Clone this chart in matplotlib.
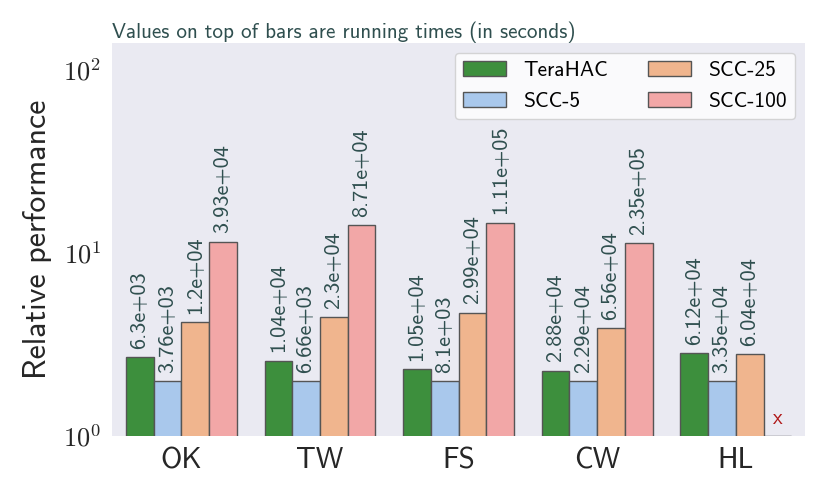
import numpy as np
import matplotlib
matplotlib.use("Agg")
import matplotlib.pyplot as plt

# ---------------------------------------------------------------------------
# Data
# ---------------------------------------------------------------------------
datasets = ["OK", "TW", "FS", "CW", "HL"]
methods = ["TeraHAC", "SCC-5", "SCC-25", "SCC-100"]

terahac = [2.69, 2.58, 2.31, 2.27, 2.83]
scc_5 = [2.0, 2.0, 2.0, 2.0, 2.0]
scc_25 = [4.20, 4.47, 4.72, 3.88, 2.80]
scc_100 = [11.5, 14.2, 14.6, 11.3, np.nan]   # HL: did not finish

time_terahac = ["6.3e+03", "1.04e+04", "1.05e+04", "2.88e+04", "6.12e+04"]
time_scc_5 = ["3.76e+03", "6.66e+03", "8.1e+03", "2.29e+04", "3.35e+04"]
time_scc_25 = ["1.2e+04", "2.3e+04", "2.99e+04", "6.56e+04", "6.04e+04"]
time_scc_100 = ["3.93e+04", "8.71e+04", "1.11e+05", "2.35e+05", None]

colors = ["#3d8f3d", "#a9c8ec", "#f0b58e", "#f2a7a7"]

# ---------------------------------------------------------------------------
# Style
# ---------------------------------------------------------------------------
plt.rcParams["font.family"] = ["cmss10", "DejaVu Sans"]
plt.rcParams["mathtext.fontset"] = "cm"
plt.rcParams["axes.unicode_minus"] = False

text_color = "#2f4f4f"

fig = plt.figure(figsize=(8.3, 4.98), dpi=100)
ax = fig.add_axes([0.135, 0.1245, 0.835, 0.7892])
ax.set_facecolor("#eaeaf2")
for s in ax.spines.values():
    s.set_visible(False)

series = [terahac, scc_5, scc_25, scc_100]
times = [time_terahac, time_scc_5, time_scc_25, time_scc_100]

x = np.arange(len(datasets))
width = 0.2
for i, (vals, tlabels, name, color) in enumerate(zip(series, times, methods, colors)):
    pos = x + (i - 1.5) * width
    heights = np.nan_to_num(np.array(vals, dtype=float), nan=1.0)
    bars = ax.bar(pos, heights, width, bottom=0, color=color,
                  edgecolor="#555555", linewidth=1.0, label=name)
    for b, val, t in zip(bars, vals, tlabels):
        cx = b.get_x() + b.get_width() / 2
        if t is None or np.isnan(val):
            # no result for this run: mark with a red cross
            ax.text(cx, 1.1, "x", color="#b01818", fontsize=15,
                    ha="center", va="bottom")
            continue
        ax.annotate(t, (cx, val), xytext=(0, 6), textcoords="offset points",
                    rotation=90, ha="center", va="bottom",
                    fontsize=16, color=text_color)

ax.set_yscale("log")
ax.set_ylim(1, 140)
ax.set_xlim(-0.5, len(datasets) - 0.5)
ax.set_yticks([1, 10, 100])
ax.set_yticklabels([r"$10^{0}$", r"$10^{1}$", r"$10^{2}$"])
ax.minorticks_off()
ax.set_xticks(x)
ax.set_xticklabels(datasets)
ax.tick_params(axis="both", length=0, pad=8)
ax.tick_params(axis="x", labelsize=21, colors="#262626")
ax.tick_params(axis="y", labelsize=19, colors="#262626")
ax.set_ylabel("Relative performance", fontsize=23, color="#262626", labelpad=8)

ax.set_title("Values on top of bars are running times (in seconds)",
             loc="left", fontsize=15.2, color=text_color, pad=3)

leg = ax.legend(loc="upper right", ncol=2, fontsize=15.4, frameon=True,
                handlelength=2.0, columnspacing=1.9, labelspacing=0.55,
                borderaxespad=0.45)
leg.get_frame().set_facecolor("white")
leg.get_frame().set_alpha(0.8)
leg.get_frame().set_edgecolor("#cccccc")

fig.savefig("out.png", dpi=100)
